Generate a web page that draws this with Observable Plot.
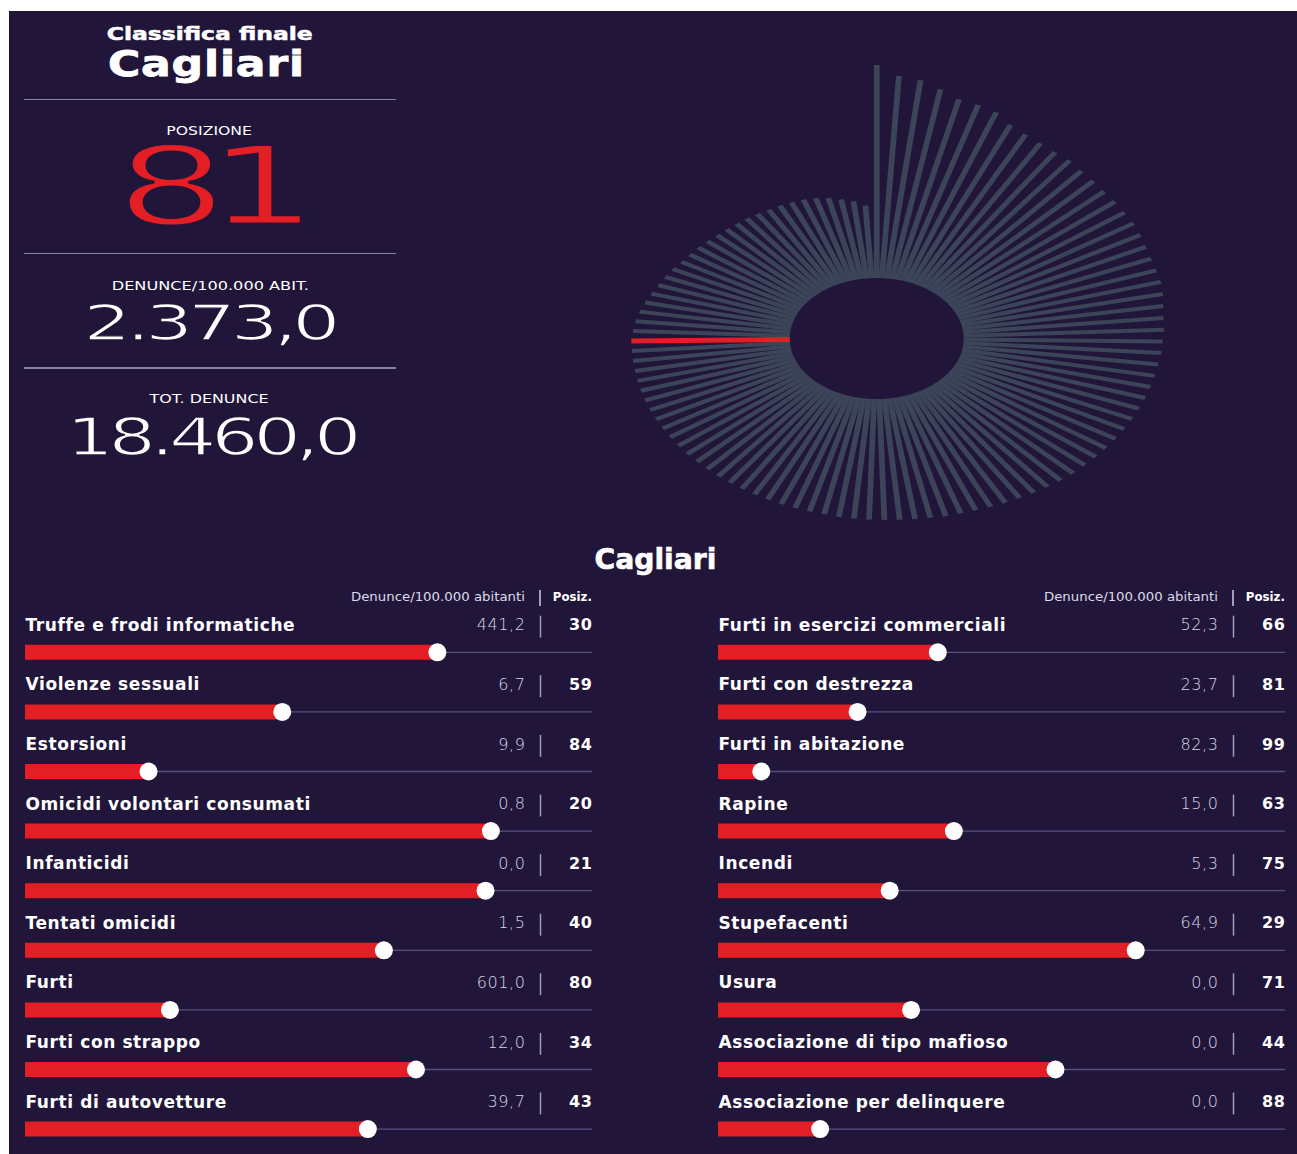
<!DOCTYPE html>
<html lang="it">
<head>
<meta charset="utf-8">
<script src="https://cdn.jsdelivr.net/npm/d3@7"></script>
<script src="https://cdn.jsdelivr.net/npm/@observablehq/plot@0.6"></script>
<style>
  html, body { margin: 0; padding: 0; }
  body { width: 1297px; height: 1154px; position: relative; overflow: hidden; background: #ffffff; font-family: "DejaVu Sans", sans-serif; }
  #bg { position: absolute; left: 9px; top: 11px; right: 0; bottom: 0; background: #211639; }
  .line { position: absolute; white-space: nowrap; line-height: 0.8; color: #fff; }
  .line span { display: inline-block; }
  .hr { position: absolute; left: 24px; width: 372px; height: 1.6px; background: #8a83a6; }
  .vsep { position: absolute; width: 1.5px; background: #a29eb8; }
</style>
</head>
<body>
<div id="bg"></div>
<script>
// ---------------- DATA ----------------
const city = "Cagliari";
const headTitle = "Classifica finale";
const positionLabel = "POSIZIONE";
const position = 81;
const perCapitaLabel = "DENUNCE/100.000 ABIT.";
const perCapita = 2373.0;
const totalLabel = "TOT. DENUNCE";
const totalReports = 18460.0;

// denunce/100.000 abitanti of the 107 provinces, in ranking order (1 = highest)
const provinceValues = [
  6626, 6101, 5955, 5621, 5295, 5204, 5069, 4715, 4543, 4416,
  4332, 4291, 4167, 4085, 4005, 3964, 3905, 3865, 3786, 3708,
  3650, 3611, 3592, 3535, 3459, 3403, 3385, 3347, 3329, 3292,
  3274, 3255, 3237, 3219, 3201, 3183, 3164, 3146, 3128, 3110,
  3092, 3057, 3021, 2986, 2951, 2916, 2881, 2847, 2830, 2812,
  2778, 2761, 2744, 2727, 2713, 2700, 2688, 2658, 2646, 2633,
  2621, 2608, 2595, 2582, 2569, 2556, 2543, 2530, 2516, 2503,
  2489, 2475, 2461, 2447, 2432, 2418, 2403, 2388, 2382, 2376,
  2373, 2341, 2309, 2262, 2199, 2137, 2075, 2029, 1984, 1923,
  1892, 1862, 1831, 1800, 1784, 1767, 1760, 1747, 1730, 1724,
  1710, 1693, 1662, 1604, 1521, 1439, 1310
];

const colHeaderValue = "Denunce/100.000 abitanti";
const colHeaderRank = "Posiz.";

const leftLabels = ["Truffe e frodi informatiche", "Violenze sessuali", "Estorsioni", "Omicidi volontari consumati", "Infanticidi", "Tentati omicidi", "Furti", "Furti con strappo", "Furti di autovetture"];
const leftValues = [441.2, 6.7, 9.9, 0.8, 0.0, 1.5, 601.0, 12.0, 39.7];
const leftRanks = [30, 59, 84, 20, 21, 40, 80, 34, 43];

const rightLabels = ["Furti in esercizi commerciali", "Furti con destrezza", "Furti in abitazione", "Rapine", "Incendi", "Stupefacenti", "Usura", "Associazione di tipo mafioso", "Associazione per delinquere"];
const rightValues = [52.3, 23.7, 82.3, 15.0, 5.3, 64.9, 0.0, 0.0, 0.0];
const rightRanks = [66, 81, 99, 63, 75, 29, 71, 44, 88];

// ---------------- HELPERS ----------------
const RED = "#e31e24";
const BG = "#211639";
const it = d3.formatLocale({decimal: ",", thousands: ".", grouping: [3], currency: ["", "€"]});
const fmt1 = it.format(",.1f");

function addText(txt, o) {
  const div = document.createElement("div");
  div.className = "line";
  // DejaVu Sans: ascent .928, descent .236; line-height .8 -> baseline at top + .746em
  div.style.top = (o.baseline - 0.746 * o.size) + "px";
  div.style.fontSize = o.size + "px";
  div.style.fontWeight = o.weight || 400;
  div.style.color = o.color || "#fff";
  const span = document.createElement("span");
  span.textContent = txt;
  if (o.stroke) span.style.webkitTextStroke = o.stroke + "px " + (o.strokeColor || BG);
  if (o.spacing) span.style.letterSpacing = o.spacing + "em";
  div.appendChild(span);
  document.body.appendChild(div);
  const nat = span.getBoundingClientRect().width;
  const k = o.width / nat;
  if (o.right != null) {
    div.style.right = (1297 - o.right) + "px";
    span.style.transformOrigin = "100% 50%";
  } else {
    div.style.left = (o.cx - nat / 2) + "px";
    span.style.transformOrigin = "50% 50%";
  }
  span.style.transform = "scaleX(" + k + ")";
}
function addHr(y) {
  const d = document.createElement("div");
  d.className = "hr"; d.style.top = y + "px";
  document.body.appendChild(d);
}
function addVsep(x, y, h) {
  const d = document.createElement("div");
  d.className = "vsep"; d.style.left = (x - 0.75) + "px"; d.style.top = y + "px"; d.style.height = h + "px";
  document.body.appendChild(d);
}

// ---------------- LEFT PANEL ----------------
addText(headTitle, {cx: 210, baseline: 40.7, size: 17, weight: 700, width: 206, stroke: 0.5, strokeColor: "#fff"});
addText(city, {cx: 206, baseline: 76, size: 35, weight: 700, width: 197, stroke: 0.8, strokeColor: "#fff", spacing: 0.02});
addHr(98.5);
addText(positionLabel, {cx: 209.5, baseline: 136, size: 11.4, width: 85.6});
addText(String(position), {cx: 206, baseline: 224.7, size: 109, width: 181.7, color: RED, stroke: 2.8, spacing: -0.12});
addHr(252.5);
addText(perCapitaLabel, {cx: 210.3, baseline: 291, size: 12, width: 197.3});
addText(fmt1(perCapita), {cx: 209, baseline: 340.7, size: 50, width: 251.7, stroke: 1.4, spacing: -0.07});
addHr(367);
addText(totalLabel, {cx: 209, baseline: 404, size: 12.3, width: 119});
addText(fmt1(totalReports), {cx: 211.7, baseline: 455.7, size: 52, width: 290, stroke: 1.4, spacing: -0.07});

// ---------------- RADIAL CHART ----------------
const R0 = 60.5, R1 = 273.5, HALF = 280;
const CX = 876, CY = 337.5, STRETCH = 1.4375;
const radius = d3.scaleRadial().domain([0, d3.max(provinceValues)]).range([R0, R1]);
const bars = provinceValues.map((v, i) => ({rank: i + 1, v}));
const theta = d => (d.rank - 1) / bars.length * 2 * Math.PI;
const linkOpts = {
  x1: d => R0 * Math.sin(theta(d)),
  y1: d => R0 * Math.cos(theta(d)),
  x2: d => radius(d.v) * Math.sin(theta(d)),
  y2: d => radius(d.v) * Math.cos(theta(d))
};
const radial = Plot.plot({
  width: 2 * HALF, height: 2 * HALF, margin: 0,
  x: {domain: [-HALF, HALF], axis: null},
  y: {domain: [-HALF, HALF], axis: null},
  style: {position: "absolute", left: (CX - HALF) + "px", top: (CY - HALF) + "px", background: "transparent", overflow: "visible", transform: "scaleX(" + STRETCH + ")", transformOrigin: HALF + "px " + HALF + "px", maxWidth: "none"},
  marks: [
    Plot.link(bars, {...linkOpts, filter: d => d.rank !== position, stroke: "#3b4458", strokeWidth: 4}),
    Plot.link(bars, {...linkOpts, filter: d => d.rank === position, stroke: RED, strokeWidth: 5})
  ]
});
document.body.appendChild(radial);

// ---------------- BOTTOM SECTION ----------------
addText(city, {cx: 655, baseline: 569, size: 27.5, weight: 700, width: 122, stroke: 0.6, strokeColor: "#fff"});

function column(labels, vals, ranks, left, width) {
  const rows = labels.map((label, i) => ({label, value: vals[i], rank: ranks[i], i}));
  const N = provinceValues.length;
  const frameRight = 592;
  const pitch = 59.6;
  // headers
  addText(colHeaderValue, {right: left + 525, baseline: 602, size: 12, weight: 400, width: 174, color: "#dcdae8"});
  addText(colHeaderRank, {right: left + 592, baseline: 602, size: 12, weight: 700, width: 39});
  addVsep(left + 540, 590, 16);
  const plot = Plot.plot({
    width, height: 545,
    marginLeft: 25, marginRight: width - frameRight, marginTop: 0, marginBottom: 0,
    x: {domain: [N, 1], axis: null},
    y: {domain: [-0.5, labels.length - 0.5], range: [5, 5 + pitch * labels.length], axis: null},
    style: {position: "absolute", left: left + "px", top: "600px", background: "transparent", overflow: "visible", fontFamily: "DejaVu Sans", letterSpacing: "0.6px", maxWidth: "none"},
    marks: [
      Plot.ruleY(rows, {y: "i", x1: N, x2: 1, dy: 17, stroke: "#57517f", strokeWidth: 1.3}),
      Plot.ruleY(rows, {y: "i", x1: N, x2: "rank", dy: 17, stroke: RED, strokeWidth: 15}),
      Plot.dot(rows, {x: "rank", y: "i", dy: 17, r: 9, fill: "#ffffff"}),
      Plot.text(rows, {y: "i", text: "label", frameAnchor: "left", textAnchor: "start", dy: -10, fill: "#ffffff", fontSize: 17, fontWeight: "bold"}),
      Plot.text(rows, {y: "i", text: d => fmt1(d.value), frameAnchor: "right", textAnchor: "end", dx: -67, dy: -10, fill: "#dad8e6", fontSize: 16, fontWeight: 300}),
      Plot.text(rows, {y: "i", text: d => String(d.rank), frameAnchor: "right", textAnchor: "end", dy: -10, fill: "#ffffff", fontSize: 16, fontWeight: "bold"}),
      Plot.ruleX(rows, {x: null, y1: d => d.i - 0.5, y2: d => d.i + 0.5, dx: 231.5, insetTop: 10.7, insetBottom: 27, stroke: "#a29eb8", strokeWidth: 1.5})
    ]
  });
  document.body.appendChild(plot);
}
column(leftLabels, leftValues, leftRanks, 0, 620);
column(rightLabels, rightValues, rightRanks, 693, 604);
</script>
</body>
</html>
